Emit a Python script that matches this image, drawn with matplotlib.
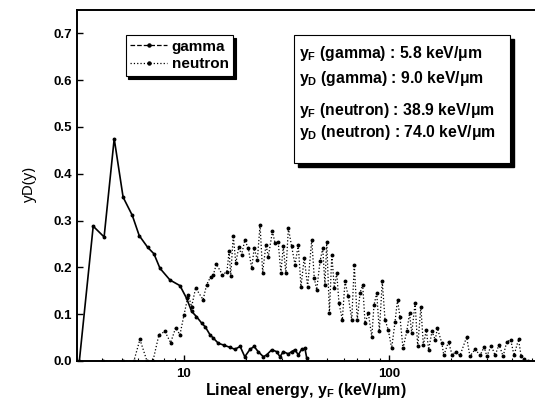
import numpy as np
import matplotlib.pyplot as plt
from matplotlib.lines import Line2D
from matplotlib.patches import Rectangle

plt.rcParams['font.family'] = ['Liberation Sans', 'DejaVu Sans']
plt.rcParams['mathtext.fontset'] = 'custom'
plt.rcParams['mathtext.rm'] = 'Liberation Sans:bold'
plt.rcParams['mathtext.it'] = 'Liberation Sans:bold'
plt.rcParams['mathtext.bf'] = 'Liberation Sans:bold'

# gamma spectrum
gamma_y = [3.09, 3.61, 4.08, 4.57, 5.05, 5.6, 6.05, 6.65, 7.14, 7.64, 8.55,
           9.56, 10.3, 10.9, 11.5, 12.2, 12.7, 13.4, 13.9, 14.7, 15.6, 16.8,
           17.7, 18.8, 19.8, 21.0, 22.0, 23.0, 24.4, 25.3, 26.8, 28.3, 29.4,
           30.5, 32.3, 33.5, 34.8, 36.1, 37.5, 38.9, 39.7]
gamma_yd = [0.0, 0.288, 0.265, 0.475, 0.35, 0.311, 0.268, 0.243, 0.229, 0.198, 0.173,
            0.161, 0.134, 0.106, 0.095, 0.081, 0.073, 0.056, 0.049, 0.038, 0.034, 0.029,
            0.025, 0.031, 0.009, 0.025, 0.031, 0.02, 0.009, 0.013, 0.024, 0.02, 0.009,
            0.02, 0.015, 0.02, 0.024, 0.013, 0.025, 0.027, 0.006]

# neutron spectrum
neutron_y = [4.03, 5.04, 5.70, 6.10, 6.60, 7.06, 7.55, 8.08, 8.61, 9.11, 9.56,
             10.0, 10.5, 10.9, 11.4, 12.4, 12.9, 13.5, 13.9, 14.4, 15.4, 16.2,
             16.6, 16.9, 17.4, 17.9, 18.5, 19.1, 19.8, 20.6, 21.4, 22.0, 22.8,
             23.5, 24.2, 25.1, 25.8, 27.0, 27.8, 28.8, 29.7, 30.5, 31.4, 32.3,
             33.5, 34.8, 36.1, 37.2, 38.6, 40.1, 42.0, 43.2, 44.4, 46.1, 47.5,
             48.7, 49.7, 51.2, 52.6, 54.1, 55.6, 57.0, 59.2, 61.0, 63.3, 65.8,
             67.7, 70.0, 72.2, 74.4, 76.4, 79.3, 82.4, 84.5, 87.1, 89.7, 92.7,
             95.6, 99.2, 103, 107, 110, 113, 117, 122, 126, 129, 134, 138, 143,
             147, 152, 156, 162, 168, 172, 181, 185, 195, 203, 212, 222, 239,
             248, 263, 278, 291, 300, 315, 329, 344, 360, 375, 392, 407, 428,
             441, 457, 476]
neutron_yd = [0.0, 0.0, 0.0, 0.046, 0.0, 0.0, 0.056, 0.063, 0.039, 0.071, 0.056,
              0.098, 0.141, 0.116, 0.156, 0.131, 0.163, 0.18, 0.184, 0.207, 0.184, 0.191,
              0.234, 0.182, 0.268, 0.209, 0.243, 0.227, 0.258, 0.241, 0.198, 0.241, 0.216,
              0.291, 0.189, 0.248, 0.223, 0.277, 0.252, 0.255, 0.188, 0.245, 0.188, 0.284,
              0.245, 0.206, 0.248, 0.159, 0.22, 0.159, 0.259, 0.177, 0.152, 0.213, 0.241,
              0.163, 0.255, 0.102, 0.227, 0.156, 0.188, 0.124, 0.088, 0.17, 0.138, 0.088,
              0.206, 0.088, 0.145, 0.163, 0.081, 0.102, 0.052, 0.12, 0.145, 0.063, 0.17,
              0.088, 0.066, 0.027, 0.084, 0.131, 0.095, 0.027, 0.063, 0.102, 0.059, 0.124, 0.031, 0.116,
              0.034, 0.066, 0.024, 0.063, 0.045, 0.07, 0.038, 0.012, 0.041, 0.013, 0.02, 0.012, 0.051,
              0.01, 0.025, 0.012, 0.03, 0.01, 0.033, 0.012, 0.035, 0.01, 0.041, 0.045, 0.012, 0.046,
              0.01, 0.004, 0.0]

info_lines = ["(gamma) : 5.8 keV/\u03bcm", "(gamma) : 9.0 keV/\u03bcm",
              "(neutron) : 38.9 keV/\u03bcm", "(neutron) : 74.0 keV/\u03bcm"]
info_sub = ["F", "D", "F", "D"]

fig = plt.figure(figsize=(5.35, 4.01), dpi=100)
ax = fig.add_axes([0.1434, 0.0998, 0.8566, 0.8753])

ax.plot(gamma_y, gamma_yd, color='black', lw=1.2, ls='-', marker='o', ms=1.8)
ax.plot(neutron_y, neutron_yd, color='black', lw=0.9, ls=':', marker='o', ms=1.8)

ax.set_xscale('log')
ax.set_xlim(3, 515)
ax.set_ylim(0, 0.75)
ax.set_yticks(np.arange(0, 0.71, 0.1))
ax.set_xticks([10, 100])
ax.set_xticklabels(['10', '100'])
ax.tick_params(which='both', direction='in', top=False, right=False)
ax.tick_params(which='major', length=4, width=1.0, labelsize=9.5)
ax.tick_params(which='minor', length=2.5, width=0.8)
ax.tick_params(axis='y', which='minor', left=False)
ax.tick_params(axis='x', pad=5)
for lab in ax.get_xticklabels() + ax.get_yticklabels():
    lab.set_fontweight('bold')
ax.spines['right'].set_visible(False)
for s in ['left', 'bottom', 'top']:
    ax.spines[s].set_linewidth(1.4)

ax.set_xlabel("Lineal energy, $\\mathregular{y_F}$ (keV/\u03bcm)", fontsize=11.5,
              fontweight='bold', labelpad=1)
ax.set_ylabel("yD(y)", fontsize=11, family=['Noto Sans', 'DejaVu Sans'], labelpad=12)

handles = [Line2D([], [], color='black', lw=0.9, ls='--', marker='o', ms=2.2),
           Line2D([], [], color='black', lw=0.9, ls=':', marker='o', ms=2.2)]
leg = ax.legend(handles, ['gamma', 'neutron'], loc='upper left',
                bbox_to_anchor=(0.1069, 0.9288), borderaxespad=0, frameon=True,
                fancybox=False, shadow={'color': 'black', 'alpha': 1.0},
                edgecolor='black', numpoints=1, handlelength=2.4,
                handletextpad=0.3, borderpad=0.3, labelspacing=0.25,
                prop={'weight': 'bold', 'size': 11})
leg.get_frame().set_linewidth(0.8)

# info box with shadow
bx0, by0, bw, bh = 0.474, 0.564, 0.4713, 0.3648
ax.add_patch(Rectangle((bx0 + 0.009, by0 - 0.011), bw, bh, transform=ax.transAxes,
                       facecolor='black', edgecolor='black', zorder=5))
ax.add_patch(Rectangle((bx0, by0), bw, bh, transform=ax.transAxes,
                       facecolor='white', edgecolor='black', lw=0.8, zorder=6))
line_y = [0.8746, 0.806, 0.715, 0.6496]
for yy, sub, txt in zip(line_y, info_sub, info_lines):
    ax.text(bx0 + 0.012, yy, "$\\mathregular{y_%s}$ %s" % (sub, txt),
            transform=ax.transAxes, fontsize=11.3, fontweight='bold',
            va='center', ha='left', zorder=7)

fig.savefig('out.png', dpi=100)
